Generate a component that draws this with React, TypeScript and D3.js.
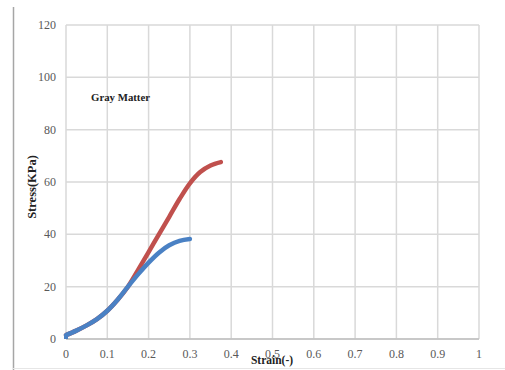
import React from "react";
import * as d3 from "d3";

const xTicks = [0, 0.1, 0.2, 0.3, 0.4, 0.5, 0.6, 0.7, 0.8, 0.9, 1];
const yTicks = [0, 20, 40, 60, 80, 100, 120];
const xTickLabels = ["0", "0.1", "0.2", "0.3", "0.4", "0.5", "0.6", "0.7", "0.8", "0.9", "1"];

const redStrain = [0, 0.025, 0.05, 0.075, 0.1, 0.125, 0.15, 0.175, 0.2, 0.225, 0.25, 0.275, 0.3, 0.325, 0.35, 0.375];
const redStress = [1.5, 3.2, 5.2, 7.6, 10.8, 15, 20, 26.5, 33.2, 40, 46.7, 53.5, 59.5, 63.8, 66.3, 67.6];

const blueStrain = [0, 0.025, 0.05, 0.075, 0.1, 0.125, 0.15, 0.175, 0.2, 0.225, 0.25, 0.275, 0.3];
const blueStress = [1.5, 3.2, 5.2, 7.6, 10.8, 15, 20, 24.8, 29.2, 33, 35.8, 37.5, 38.2];

const annotation = "Gray Matter";
const xTitle = "Strain(-)";
const yTitle = "Stress(KPa)";

export default function App() {
  const x = d3.scaleLinear().domain([0, 1]).range([66, 479]);
  const y = d3.scaleLinear().domain([0, 120]).range([339, 25]);
  const line = d3
    .line<[number, number]>()
    .x((d) => x(d[0]))
    .y((d) => y(d[1]))
    .curve(d3.curveCatmullRom.alpha(0.5));
  const red = redStrain.map((s, i) => [s, redStress[i]] as [number, number]);
  const blue = blueStrain.map((s, i) => [s, blueStress[i]] as [number, number]);
  const font = "'Liberation Serif', 'DejaVu Serif', serif";
  return (
    <svg
      width={505}
      height={370}
      style={{ position: "absolute", left: 0, top: 0, background: "#fff" }}
    >
      <rect x={0} y={0} width={505} height={370} fill="#fff" />
      <line x1={13.5} x2={13.5} y1={7} y2={370} stroke="#a6a6a6" strokeWidth={1.5} />
      <line x1={13} x2={505} y1={368.5} y2={368.5} stroke="#e6e6e6" strokeWidth={1} />
      {xTicks.map((t) => (
        <line key={"gx" + t} x1={x(t)} x2={x(t)} y1={y(120)} y2={y(0)} stroke="#d9d9d9" strokeWidth={1.5} />
      ))}
      {yTicks.map((t) => (
        <line key={"gy" + t} x1={x(0)} x2={x(1)} y1={y(t)} y2={y(t)} stroke="#d9d9d9" strokeWidth={1.5} />
      ))}
      <line x1={x(0)} x2={x(1)} y1={y(0)} y2={y(0)} stroke="#bfbfbf" strokeWidth={1.5} />
      {yTicks.map((t) => (
        <text key={"ty" + t} x={56} y={y(t) + 4} textAnchor="end" fontFamily={font} fontSize={12} fill="#595959">
          {t}
        </text>
      ))}
      {xTicks.map((t, i) => (
        <text key={"tx" + t} x={x(t)} y={358} textAnchor="middle" fontFamily={font} fontSize={12} fill="#595959">
          {xTickLabels[i]}
        </text>
      ))}
      <path d={line(red) || ""} fill="none" stroke="#c0504d" strokeWidth={4.5} strokeLinecap="round" />
      <path d={line(blue) || ""} fill="none" stroke="#4a81c4" strokeWidth={4.5} strokeLinecap="round" />
      <rect x={x(0) - 2} y={y(0) - 4} width={4} height={4} fill="#4a81c4" />
      <text x={91} y={101} fontFamily={font} fontSize={10.8} fontWeight="bold" fill="#222">
        {annotation}
      </text>
      <text x={272} y={364} textAnchor="middle" fontFamily={font} fontSize={11.5} fontWeight="bold" fill="#222">
        {xTitle}
      </text>
      <text
        transform={`translate(36,${187}) rotate(-90)`}
        textAnchor="middle"
        fontFamily={font}
        fontSize={12.5}
        fontWeight="bold"
        fill="#222"
      >
        {yTitle}
      </text>
    </svg>
  );
}
